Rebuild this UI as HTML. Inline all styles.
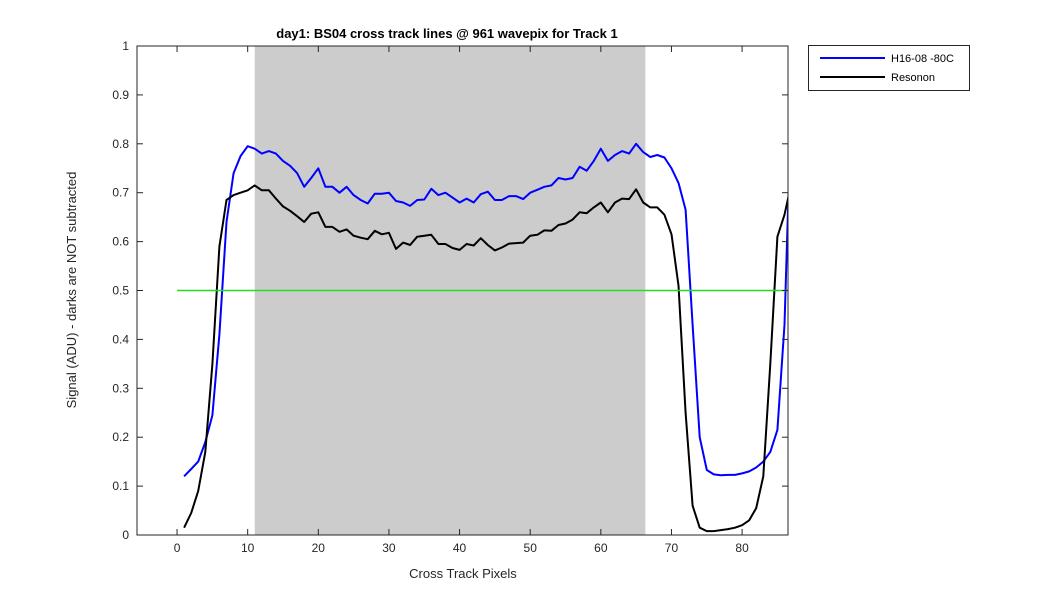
<!DOCTYPE html>
<html><head><meta charset="utf-8"><style>
body{margin:0;background:#fff;}
svg{display:block;font-family:"Liberation Sans",Arial,sans-serif;}
</style></head><body>
<svg id="chart" width="1050" height="600" viewBox="0 0 1050 600"></svg>
<script>
const xTicks=[0,10,20,30,40,50,60,70,80];
const yTicks=[0,0.1,0.2,0.3,0.4,0.5,0.6,0.7,0.8,0.9,1];
const yTickLabels=["0","0.1","0.2","0.3","0.4","0.5","0.6","0.7","0.8","0.9","1"];
const shadeRange=[11,66.3];
const thresholdValue=0.5;
const thresholdRange=[0,86.5];
const blueValues=[0.12,0.135,0.15,0.19,0.245,0.41,0.64,0.74,0.775,0.795,0.79,0.78,0.785,0.78,0.765,0.755,0.74,0.712,0.73,0.75,0.712,0.712,0.70,0.712,0.695,0.685,0.678,0.698,0.698,0.70,0.683,0.68,0.673,0.685,0.686,0.708,0.695,0.70,0.69,0.68,0.688,0.68,0.697,0.702,0.685,0.685,0.693,0.693,0.687,0.70,0.706,0.712,0.715,0.73,0.727,0.73,0.753,0.745,0.765,0.79,0.765,0.777,0.785,0.78,0.80,0.783,0.773,0.777,0.772,0.75,0.72,0.665,0.43,0.2,0.133,0.124,0.122,0.123,0.123,0.126,0.13,0.138,0.15,0.17,0.215,0.43,0.9];
const blackValues=[0.015,0.045,0.09,0.17,0.35,0.59,0.685,0.695,0.70,0.705,0.715,0.705,0.705,0.688,0.672,0.663,0.652,0.64,0.657,0.66,0.63,0.63,0.62,0.625,0.612,0.608,0.605,0.622,0.615,0.618,0.585,0.598,0.593,0.61,0.612,0.614,0.595,0.595,0.587,0.583,0.595,0.592,0.607,0.593,0.582,0.588,0.596,0.597,0.598,0.612,0.614,0.623,0.622,0.634,0.637,0.645,0.66,0.658,0.67,0.68,0.66,0.68,0.688,0.687,0.707,0.68,0.67,0.67,0.655,0.615,0.51,0.25,0.06,0.015,0.008,0.008,0.01,0.012,0.015,0.02,0.03,0.055,0.12,0.35,0.61,0.655,0.72];

const L=137,R=788,T=46,B=535,xmin=-5.67,xmax=86.5;
const X=v=>L+(v-xmin)/(xmax-xmin)*(R-L);
const Y=v=>B-v*(B-T);
const svg=document.getElementById('chart');
const NS='http://www.w3.org/2000/svg';
function mk(tag,attrs,parent){const e=document.createElementNS(NS,tag);for(const k in attrs)e.setAttribute(k,attrs[k]);(parent||svg).appendChild(e);return e;}

const defs=mk('defs',{});
const cp=mk('clipPath',{id:'clip'},defs);
mk('rect',{x:L,y:T,width:R-L,height:B-T},cp);

const shade=mk('rect',{x:X(shadeRange[0]),y:T,width:X(shadeRange[1])-X(shadeRange[0]),height:B-T,fill:'#cccccc'});



const g=mk('g',{'clip-path':'url(#clip)'});


function line(vals,color,name){
  const pts=vals.map((v,i)=>X(i+1).toFixed(1)+','+Y(v).toFixed(1)).join(' ');
  const p=mk('polyline',{points:pts,fill:'none',stroke:color,'stroke-width':2,'stroke-linejoin':'round'},g);
  
  
}
line(blueValues,'#0000ff','series-h16-08-80c');
line(blackValues,'#000000','series-resonon');
const th=mk('line',{x1:X(thresholdRange[0]),x2:X(thresholdRange[1]),y1:Y(thresholdValue),y2:Y(thresholdValue),stroke:'#22dd22','stroke-width':1.5},g);



const box=mk('rect',{x:L,y:T,width:R-L,height:B-T,fill:'none',stroke:'#262626','stroke-width':1});



xTicks.forEach(t=>{
  const x=X(t);
  mk('line',{x1:x,x2:x,y1:B,y2:B-6,stroke:'#262626'});
  mk('line',{x1:x,x2:x,y1:T,y2:T+6,stroke:'#262626'});
  const tx=mk('text',{x:x,y:B+17,'text-anchor':'middle','font-size':12,fill:'#262626'});
  tx.textContent=t;
  
  
});
yTicks.forEach((t,i)=>{
  const y=Y(t);
  mk('line',{x1:L,x2:L+6,y1:y,y2:y,stroke:'#262626'});
  mk('line',{x1:R,x2:R-6,y1:y,y2:y,stroke:'#262626'});
  const tx=mk('text',{x:L-8,y:y+4,'text-anchor':'end','font-size':12,fill:'#262626'});
  tx.textContent=yTickLabels[i];
  
  
});
</script>
<svg style="position:absolute;left:0;top:0" width="1050" height="600">
  <text x="447" y="38" text-anchor="middle" font-size="13" font-weight="bold" fill="#000" font-family="Liberation Sans, sans-serif">day1: BS04  cross track lines @ 961 wavepix for Track 1</text>
  <text x="463" y="578" text-anchor="middle" font-size="13" fill="#262626" font-family="Liberation Sans, sans-serif">Cross Track Pixels</text>
  <text transform="translate(76,290) rotate(-90)" text-anchor="middle" font-size="13" fill="#262626" font-family="Liberation Sans, sans-serif">Signal (ADU) - darks are NOT subtracted</text>
  <g>
    <rect x="808.5" y="45.5" width="161" height="45" fill="#fff" stroke="#262626"/>
    <line x1="820" x2="885" y1="58" y2="58" stroke="#0000ff" stroke-width="2"/>
    <text x="891" y="62" font-size="11" fill="#000" font-family="Liberation Sans, sans-serif">H16-08 -80C</text>
    <line x1="820" x2="885" y1="77" y2="77" stroke="#000" stroke-width="2"/>
    <text x="891" y="81" font-size="11" fill="#000" font-family="Liberation Sans, sans-serif">Resonon</text>
  </g>
</svg>
</body></html>
